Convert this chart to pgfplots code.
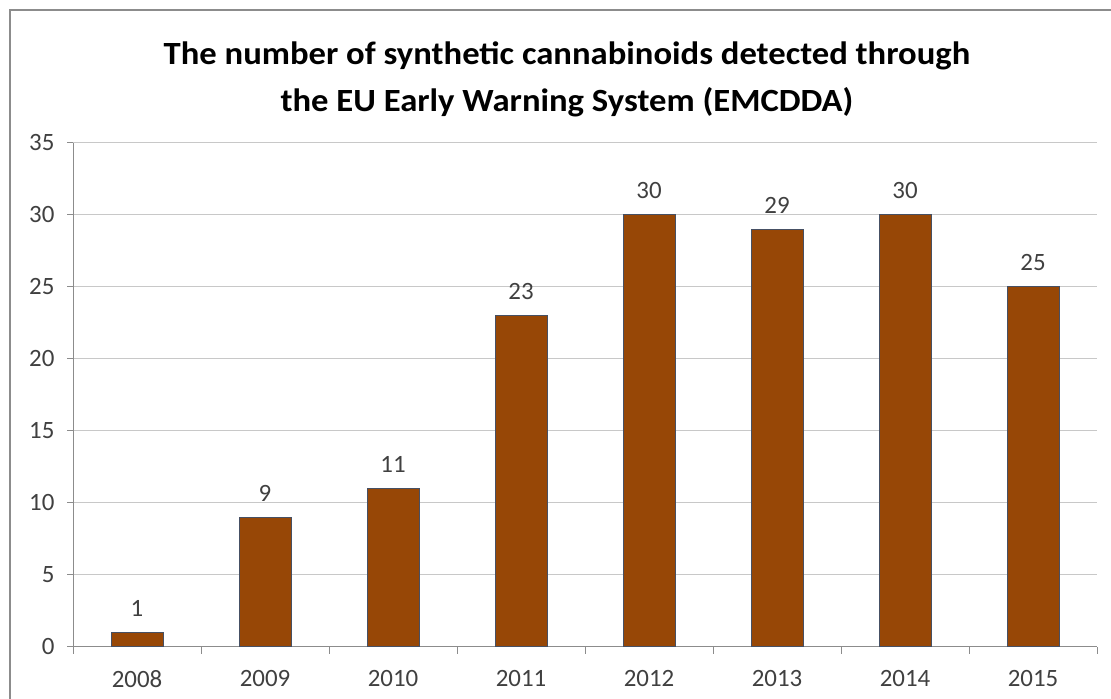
\documentclass[border=0pt]{standalone}
\usepackage{pgfplots}
\pgfplotsset{compat=1.18}
\usepackage{fontspec}
\setmainfont{Carlito}
\newfontfamily\titlefont{Carlito}[FakeStretch=1.07]
\definecolor{barfill}{RGB}{151,71,6}
\definecolor{baredge}{RGB}{70,80,100}
\definecolor{gridgray}{RGB}{200,200,200}
\definecolor{axisgray}{RGB}{140,140,140}
\definecolor{framegray}{RGB}{140,140,140}
\definecolor{textgray}{RGB}{64,64,64}
\begin{document}
\begin{tikzpicture}[x=1bp,y=1bp]
\useasboundingbox (0,0) rectangle (1111,699);
\draw[framegray, line width=2bp] (10,0) -- (10,689) -- (1111,689);
\node[font=\titlefont\fontsize{32.5}{47}\selectfont\bfseries, align=center] at (567,620)
  {The number of synthetic cannabinoids detected through\\the EU Early Warning System (EMCDDA)};
\begin{axis}[
    at={(73bp,52bp)}, anchor=south west,
    scale only axis, width=1024bp, height=504bp,
    xmin=-0.5, xmax=7.5, ymin=0, ymax=35,
    axis x line*=bottom, axis y line*=left,
    axis line style={axisgray, line width=1bp, -},
    xtick={0,...,7},
    xticklabels={2008,2009,2010,2011,2012,2013,2014,2015},
    major x tick style={draw=none},
    minor xtick={-0.5,0.5,...,7.5},
    minor tick length=7bp,
    minor x tick style={axisgray, line width=1bp},
    x tick label style={yshift=-14bp},
    y tick label style={xshift=-9bp},
    ytick={0,5,...,35},
    y tick style={axisgray, line width=1bp},
    major tick length=6bp,
    tick align=outside,
    ymajorgrids,
    grid style={gridgray, line width=1bp},
    tick label style={font=\fontsize{25}{30}\selectfont, text=textgray},
    /pgf/number format/assume math mode=true,
    ybar, bar width=52bp,
    nodes near coords,
    every node near coord/.append style={font=\fontsize{25}{30}\selectfont, text=textgray, yshift=12bp},
]
\addplot[fill=barfill, draw=baredge, line width=1bp] coordinates {
    (0,1) (1,9) (2,11) (3,23) (4,30) (5,29) (6,30) (7,25)
};
\end{axis}
\end{tikzpicture}
\end{document}
